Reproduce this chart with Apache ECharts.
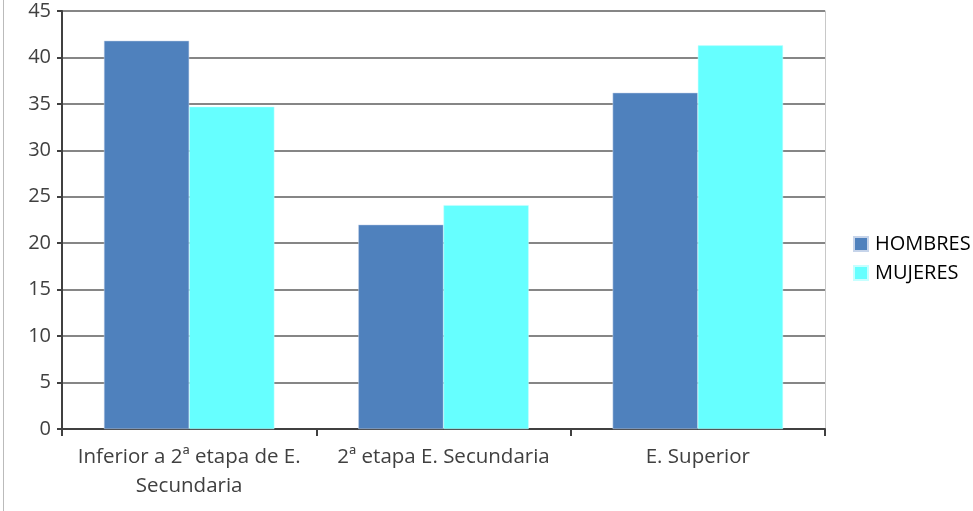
<!DOCTYPE html>
<html><head><meta charset="utf-8">
<script src="https://cdn.jsdelivr.net/npm/echarts@6/dist/echarts.min.js"></script>
<style>html,body{margin:0;padding:0;background:#fff}#c{width:973px;height:511px}</style>
</head><body><div id="c"></div>
<script>
const categories = ['Inferior a 2ª etapa de E.\nSecundaria', '2ª etapa E. Secundaria', 'E. Superior'];
const hombres = [41.8, 22.0, 36.2];
const mujeres = [34.7, 24.1, 41.3];
const seriesNames = ['HOMBRES', 'MUJERES'];

const chart = echarts.init(document.getElementById('c'));
const font = '"Open Sans", sans-serif';
chart.setOption({
  animation: false,
  backgroundColor: '#fff',
  grid: {left: 62, right: 148, top: 11, bottom: 82},
  legend: {
    orient: 'vertical', left: 848, top: 229,
    itemWidth: 14, itemHeight: 14, itemGap: 9,
    icon: 'rect',
    textStyle: {fontFamily: font, fontSize: 20, color: '#000', padding: [0, 0, 0, 2]},
    data: seriesNames
  },
  xAxis: {
    type: 'category', data: categories,
    axisLine: {lineStyle: {color: '#404040', width: 2}},
    axisTick: {show: true, length: 7, interval: 0, lineStyle: {color: '#404040', width: 2}},
    axisLabel: {fontFamily: font, fontSize: 20.5, color: '#404040', lineHeight: 29, margin: 14, interval: 0}
  },
  yAxis: [{
    type: 'value', min: 0, max: 45, interval: 5,
    axisLine: {show: true, lineStyle: {color: '#404040', width: 2}},
    axisTick: {show: true, length: 5, lineStyle: {color: '#404040', width: 2}},
    axisLabel: {fontFamily: font, fontSize: 20, color: '#404040', margin: 11},
    splitLine: {lineStyle: {color: '#868686', width: 2}}
  }, {
    type: 'value', min: 0, max: 45, interval: 5, position: 'right',
    axisLine: {show: true, lineStyle: {color: '#c8c8c8', width: 1}},
    axisTick: {show: false}, axisLabel: {show: false}, splitLine: {show: false}
  }],
  series: [
    {name: seriesNames[0], type: 'bar', data: hombres, barGap: '0%', barCategoryGap: '33%',
     itemStyle: {color: '#4F81BD', borderColor: '#c6d4ea', borderWidth: 0.5}},
    {name: seriesNames[1], type: 'bar', data: mujeres,
     itemStyle: {color: '#66FFFF', borderColor: '#c6ffff', borderWidth: 0.5}}
  ],
  graphic: [{type: 'line', shape: {x1: 3.5, y1: 0, x2: 3.5, y2: 511}, style: {stroke: '#bbbbbb', lineWidth: 1}}]
});
</script></body></html>
